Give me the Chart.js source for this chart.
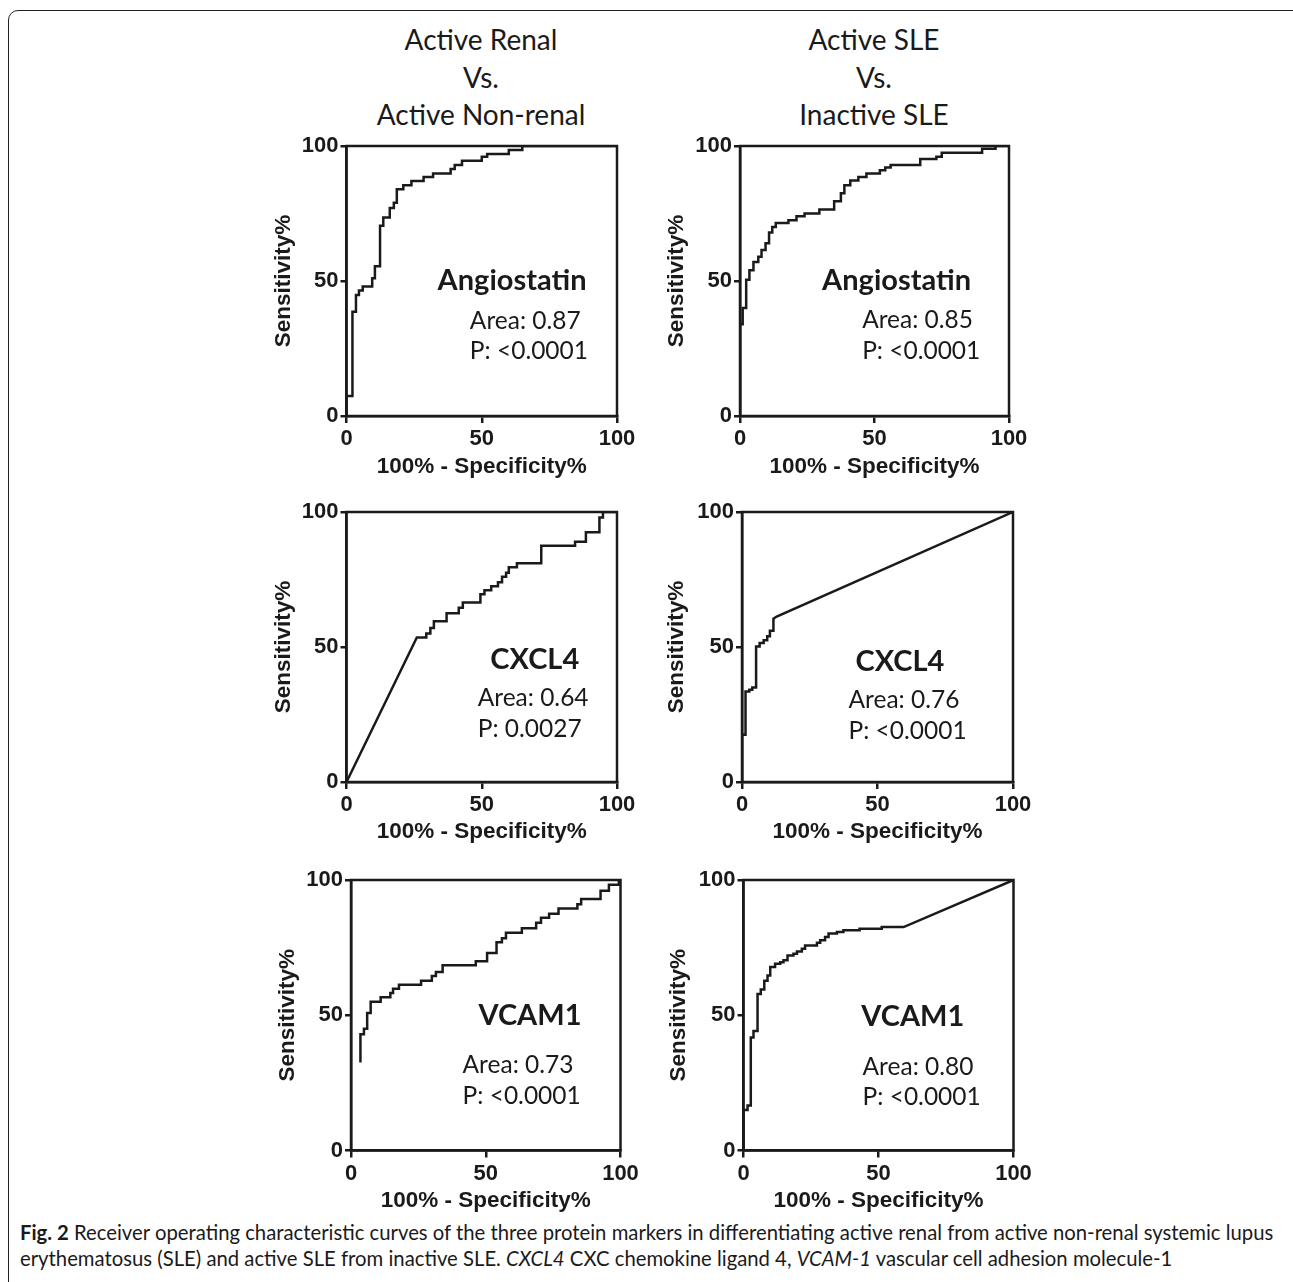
<!DOCTYPE html>
<html>
<head>
<meta charset="utf-8">
<script src="https://cdn.jsdelivr.net/npm/chart.js@4.4.1/dist/chart.umd.min.js"></script>
<style>
  html, body { margin: 0; padding: 0; background: #fff; overflow: hidden; }
  body { width: 1293px; height: 1282px; position: relative; }
  #frame { position: absolute; left: 8px; top: 10px; width: 1300px; height: 1300px;
           border: 1.5px solid #222; border-radius: 10px; box-sizing: border-box; }
  .head { position: absolute; top: 21px; width: 320px; text-align: center; font-family: Lato, sans-serif;
          font-size: 28px; line-height: 37.5px; color: #1a1a1a; }
  canvas { position: absolute; }
  #caption { position: absolute; left: 20px; top: 1219px; font-family: Lato, sans-serif; font-size: 20.3px;
             line-height: 26px; color: #1a1a1a; white-space: nowrap; }
</style>
</head>
<body>
<div id="frame"></div>
<div class="head" style="left:321px">Active Renal<br>Vs.<br>Active Non-renal</div>
<div class="head" style="left:714px">Active SLE<br>Vs.<br>Inactive SLE</div>
<div id="caption"><b>Fig. 2</b> Receiver operating characteristic curves of the three protein markers in differentiating active renal from active non-renal systemic lupus<br>erythematosus (SLE) and active SLE from inactive SLE. <i>CXCL4</i> CXC chemokine ligand 4, <i>VCAM-1</i> vascular cell adhesion molecule-1</div>
<script>
// tick values on both axes
var ticks = [0, 50, 100];

var markers = ['Angiostatin', 'CXCL4', 'VCAM1'];
var renalArea = ['0.87', '0.64', '0.73'];
var renalP = ['<0.0001', '0.0027', '<0.0001'];
var sleArea = ['0.85', '0.76', '0.80'];
var sleP = ['<0.0001', '<0.0001', '<0.0001'];

// ROC points: 100% - specificity (x) and sensitivity (y), in %
// active renal vs active non-renal
var renalAngioX = [0, 0, 2.2, 2.2, 3.5, 3.5, 4.6, 4.6, 6, 6, 9.5, 9.5, 10.5, 10.5, 12.4, 12.4, 13.6, 13.6, 16, 16, 17.5, 17.5, 18.6, 18.6, 21, 21, 24, 24, 28.5, 28.5, 32, 32, 38.5, 38.5, 40, 40, 42.7, 42.7, 50, 50, 52, 52, 60, 60, 65, 65, 100];
var renalAngioY = [0, 7.4, 7.4, 38.6, 38.6, 44.8, 44.8, 46.5, 46.5, 48, 48, 51, 51, 55.5, 55.5, 70.5, 70.5, 73.5, 73.5, 77, 77, 79, 79, 84, 84, 85.5, 85.5, 87, 87, 88.5, 88.5, 89.8, 89.8, 91.5, 91.5, 93, 93, 94.5, 94.5, 96, 96, 97, 97, 98.5, 98.5, 100, 100];

var renalCxcl4X = [0, 26, 29.5, 29.5, 31, 31, 32.3, 32.3, 37, 37, 41.5, 41.5, 43, 43, 49.5, 49.5, 51, 51, 53.5, 53.5, 56, 56, 57.5, 57.5, 59, 59, 60, 60, 63, 63, 72, 72, 84.5, 84.5, 88.5, 88.5, 93.5, 93.5, 94.8, 94.8, 100];
var renalCxcl4Y = [0, 53.5, 53.5, 55, 55, 57, 57, 59.5, 59.5, 62.5, 62.5, 64.5, 64.5, 66.5, 66.5, 69.5, 69.5, 71, 71, 72.5, 72.5, 74, 74, 76, 76, 77.5, 77.5, 79.5, 79.5, 81, 81, 87.5, 87.5, 89, 89, 92.5, 92.5, 98, 98, 100, 100];

var renalVcamX = [3.5, 3.5, 4.8, 4.8, 6, 6, 7.3, 7.3, 11, 11, 14.6, 14.6, 15.6, 15.6, 17.8, 17.8, 26, 26, 30, 30, 31.5, 31.5, 34, 34, 46.3, 46.3, 50.5, 50.5, 54, 54, 56, 56, 57.5, 57.5, 63.4, 63.4, 68.7, 68.7, 70.5, 70.5, 73.5, 73.5, 77, 77, 84, 84, 85.4, 85.4, 92.6, 92.6, 95.7, 95.7, 99.4, 99.4, 100];
var renalVcamY = [32.5, 43, 43, 45, 45, 50.8, 50.8, 55, 55, 56.7, 56.7, 58.2, 58.2, 59.8, 59.8, 61.3, 61.3, 62.8, 62.8, 64.5, 64.5, 66, 66, 68.5, 68.5, 70, 70, 73, 73, 77, 77, 78.5, 78.5, 80.5, 80.5, 82.2, 82.2, 84.2, 84.2, 86, 86, 87.5, 87.5, 89.5, 89.5, 91, 91, 93, 93, 96, 96, 98.2, 98.2, 100, 100];

// active SLE vs inactive SLE
var sleAngioX = [0, 0, 1, 1, 2.3, 2.3, 3.5, 3.5, 5, 5, 6.8, 6.8, 8, 8, 9.5, 9.5, 10.8, 10.8, 12, 12, 13.3, 13.3, 18, 18, 21, 21, 24, 24, 29.5, 29.5, 35, 35, 37.5, 37.5, 38.8, 38.8, 41, 41, 44, 44, 47, 47, 52, 52, 54, 54, 56, 56, 67, 67, 73, 73, 75, 75, 90, 90, 95, 95, 100];
var sleAngioY = [0, 34, 34, 40, 40, 50.5, 50.5, 54, 54, 57, 57, 59, 59, 61.5, 61.5, 64, 64, 68, 68, 70, 70, 71.5, 71.5, 72.5, 72.5, 74, 74, 75, 75, 76.5, 76.5, 79.5, 79.5, 82.5, 82.5, 85.5, 85.5, 87.2, 87.2, 88.5, 88.5, 89.8, 89.8, 91, 91, 92, 92, 93, 93, 95.2, 95.2, 96, 96, 97.5, 97.5, 99, 99, 100, 100];

var sleCxcl4X = [0, 0, 1.3, 1.3, 2.7, 2.7, 3.8, 3.8, 5.2, 5.2, 6.5, 6.5, 8, 8, 9.3, 9.3, 10.3, 10.3, 11.6, 11.6, 12.8, 100];
var sleCxcl4Y = [0, 17.5, 17.5, 33.5, 33.5, 34.2, 34.2, 35, 35, 50.2, 50.2, 51.5, 51.5, 52.5, 52.5, 54, 54, 56, 56, 60.5, 61.3, 100];

var sleVcamX = [0, 0, 1.5, 1.5, 2.7, 2.7, 3.7, 3.7, 5.2, 5.2, 6.4, 6.4, 7.7, 7.7, 8.9, 8.9, 9.9, 9.9, 11.7, 11.7, 13.6, 13.6, 14.8, 14.8, 16.3, 16.3, 18.5, 18.5, 19.8, 19.8, 21.6, 21.6, 22.8, 22.8, 27.2, 27.2, 28.4, 28.4, 30.2, 30.2, 31.5, 31.5, 34.6, 34.6, 37, 37, 43, 43, 51.2, 51.2, 59.3, 100];
var sleVcamY = [0, 15, 15, 16.6, 16.6, 41.8, 41.8, 44.2, 44.2, 57.9, 57.9, 59.5, 59.5, 62.8, 62.8, 64.7, 64.7, 67.8, 67.8, 69, 69, 69.6, 69.6, 70.3, 70.3, 72.1, 72.1, 72.7, 72.7, 73.6, 73.6, 74.6, 74.6, 75.8, 75.8, 76.8, 76.8, 77.7, 77.7, 78.9, 78.9, 80.2, 80.2, 80.8, 80.8, 81.4, 81.4, 82, 82, 82.6, 82.6, 100];

var ink = '#1a1a1a';
var tickFont = { family: '"Liberation Sans", Arial, sans-serif', size: 22, weight: 'bold' };
var axisFont = { family: '"Liberation Sans", Arial, sans-serif', size: 22.5, weight: 'bold' };

// page layout: plot box [left, top, right, bottom], axis title positions, note spots (data units)
var panels = [
  { x: renalAngioX, y: renalAngioY, m: 0, area: renalArea, p: renalP, box: [346.5, 146, 617, 416], yT: 283, xT: 467, note: [61.2, 50.2, 45.6, 35, 23.9] },
  { x: sleAngioX, y: sleAngioY, m: 0, area: sleArea, p: sleP, box: [740, 146, 1009, 416], yT: 676, xT: 467, note: [58.2, 50, 45.4, 35.5, 24] },
  { x: renalCxcl4X, y: renalCxcl4Y, m: 1, area: renalArea, p: renalP, box: [346.5, 512, 617, 782], yT: 283, xT: 832, note: [69.6, 45.5, 48.5, 30.9, 19.5] },
  { x: sleCxcl4X, y: sleCxcl4Y, m: 1, area: sleArea, p: sleP, box: [742, 512, 1013, 782], yT: 676, xT: 832, note: [58.3, 44.7, 39.3, 30.3, 19] },
  { x: renalVcamX, y: renalVcamY, m: 2, area: renalArea, p: renalP, box: [351, 879.5, 620.5, 1149.5], yT: 287, xT: 1200, note: [66.4, 49.8, 41.4, 31.5, 20] },
  { x: sleVcamX, y: sleVcamY, m: 2, area: sleArea, p: sleP, box: [743.5, 879.5, 1013.5, 1149.5], yT: 678, xT: 1200, note: [62.7, 49.5, 44.1, 30.8, 19.6] }
];

var framePlugin = {
  id: 'frame',
  afterDatasetsDraw: function (chart) {
    var a = chart.chartArea, c = chart.ctx;
    c.save();
    c.strokeStyle = ink;
    c.lineWidth = 2.5;
    c.strokeRect(a.left, a.top, a.right - a.left, a.bottom - a.top);
    c.restore();
  }
};

var notePlugin = {
  id: 'rocNote',
  afterDraw: function (chart, args, o) {
    var c = chart.ctx, sx = chart.scales.x, sy = chart.scales.y, at = o.at;
    c.save();
    c.fillStyle = ink;
    c.textBaseline = 'middle';
    c.font = 'bold 29px Lato';
    c.textAlign = 'center';
    c.fillText(o.marker, sx.getPixelForValue(at[0]), sy.getPixelForValue(at[1]));
    c.font = '24.5px Lato';
    c.textAlign = 'left';
    c.fillText('Area: ' + o.area, sx.getPixelForValue(at[2]), sy.getPixelForValue(at[3]));
    c.fillText('P: ' + o.p, sx.getPixelForValue(at[2]), sy.getPixelForValue(at[4]));
    c.restore();
  }
};

panels.forEach(function (p) {
  var left = p.yT - 13, top = p.box[1] - 20, right = p.box[2] + 30, bottom = p.xT + 13;
  var cv = document.createElement('canvas');
  cv.width = Math.round(right - left);
  cv.height = Math.round(bottom - top);
  cv.style.left = left + 'px';
  cv.style.top = top + 'px';
  document.body.appendChild(cv);

  var pts = p.x.map(function (v, i) { return { x: v, y: p.y[i] }; });
  var setTicks = function (s) { s.ticks = ticks.map(function (v) { return { value: v }; }); };

  new Chart(cv.getContext('2d'), {
    type: 'scatter',
    data: {
      datasets: [{
        data: pts,
        showLine: true,
        borderColor: ink,
        borderWidth: 2.5,
        pointRadius: 0,
        tension: 0,
        fill: false
      }]
    },
    options: {
      responsive: false,
      animation: false,
      events: [],
      layout: { padding: { left: 0, top: 20, right: cv.width - (p.box[2] - left), bottom: 0 } },
      plugins: {
        legend: { display: false },
        tooltip: { enabled: false },
        rocNote: { marker: markers[p.m], area: p.area[p.m], p: p.p[p.m], at: p.note }
      },
      scales: {
        x: {
          type: 'linear', min: 0, max: 100,
          afterBuildTicks: setTicks,
          ticks: { font: tickFont, color: ink, padding: 3, maxRotation: 0, autoSkip: false },
          grid: { drawOnChartArea: false, tickLength: 7, color: ink, lineWidth: 2.5 },
          border: { color: ink, width: 2.5 },
          title: { display: true, text: '100% - Specificity%', font: axisFont, color: ink, padding: 0 },
          afterFit: function (s) { s.height = bottom - p.box[3]; }
        },
        y: {
          type: 'linear', min: 0, max: 100,
          afterBuildTicks: setTicks,
          ticks: { font: tickFont, color: ink, padding: 2, autoSkip: false },
          grid: { drawOnChartArea: false, tickLength: 6, color: ink, lineWidth: 2.5 },
          border: { color: ink, width: 2.5 },
          title: { display: true, text: 'Sensitivity%', font: axisFont, color: ink, padding: 0 },
          afterFit: function (s) { s.width = p.box[0] - left; }
        }
      }
    },
    plugins: [framePlugin, notePlugin]
  });
});
</script>
</body>
</html>
